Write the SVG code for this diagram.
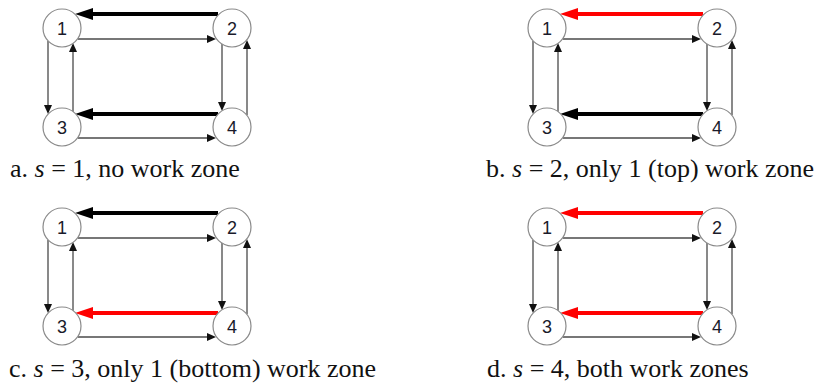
<svg xmlns="http://www.w3.org/2000/svg" width="820" height="388" viewBox="0 0 820 388">
<defs>
<style>
.node circle{fill:#fff;stroke:#8a8a8a;stroke-width:1.2}
.node text{font-family:"Liberation Sans",Arial,sans-serif;font-size:18px;fill:#1a1a2a;text-anchor:middle}
.thin{fill:none;stroke:#4a4a4a;stroke-width:1.3;marker-end:url(#ah)}
.thick{fill:none;stroke:#000;stroke-width:4;marker-end:url(#ahb)}
.red{fill:none;stroke:#ff0000;stroke-width:4;marker-end:url(#ahr)}
.cap{font-family:"Liberation Serif","Times New Roman",serif;font-size:26px;fill:#111}
.cap tspan.i{font-style:italic}
</style>
<marker id="ah" markerUnits="userSpaceOnUse" markerWidth="10" markerHeight="8" refX="0" refY="4" orient="auto" overflow="visible"><path d="M0,0 L9,4 L0,8 z" fill="#111"/></marker>
<marker id="ahb" markerUnits="userSpaceOnUse" markerWidth="18" markerHeight="12" refX="0" refY="6" orient="auto" overflow="visible"><path d="M0,0 L18,6 L0,12 z" fill="#000"/></marker>
<marker id="ahr" markerUnits="userSpaceOnUse" markerWidth="18" markerHeight="12" refX="0" refY="6" orient="auto" overflow="visible"><path d="M0,0 L18,6 L0,12 z" fill="#ff0000"/></marker>
</defs>
<rect width="820" height="388" fill="#fff"/>

<g id="panel-a">
<g id="a-connectors">
<path class="thick" d="M218,14 H93"/>
<path class="thin" d="M78,39 H207"/>
<path class="thin" d="M48,41 V105"/>
<path class="thin" d="M73,112 V52"/>
<path class="thin" d="M222,44 V102"/>
<path class="thin" d="M247,115 V49"/>
<path class="thick" d="M218,114 H93"/>
<path class="thin" d="M78,138 H207"/>
</g>
<g id="a-n1" class="node"><circle cx="62" cy="28" r="19"/><text x="62" y="34.5">1</text></g>
<g id="a-n2" class="node"><circle cx="232" cy="28" r="19"/><text x="232" y="34.5">2</text></g>
<g id="a-n3" class="node"><circle cx="62" cy="127" r="19"/><text x="62" y="133.5">3</text></g>
<g id="a-n4" class="node"><circle cx="232" cy="127" r="19"/><text x="232" y="133.5">4</text></g>
<text class="cap" x="10" y="177">a. <tspan class="i">s</tspan> = 1, no work zone</text>
</g>

<g id="panel-b" transform="translate(485,0)">
<g id="b-connectors">
<path class="red" d="M218,14 H93"/>
<path class="thin" d="M78,39 H207"/>
<path class="thin" d="M48,41 V105"/>
<path class="thin" d="M73,112 V52"/>
<path class="thin" d="M222,44 V102"/>
<path class="thin" d="M247,115 V49"/>
<path class="thick" d="M218,114 H93"/>
<path class="thin" d="M78,138 H207"/>
</g>
<g id="b-n1" class="node"><circle cx="62" cy="28" r="19"/><text x="62" y="34.5">1</text></g>
<g id="b-n2" class="node"><circle cx="232" cy="28" r="19"/><text x="232" y="34.5">2</text></g>
<g id="b-n3" class="node"><circle cx="62" cy="127" r="19"/><text x="62" y="133.5">3</text></g>
<g id="b-n4" class="node"><circle cx="232" cy="127" r="19"/><text x="232" y="133.5">4</text></g>
<text class="cap" x="1" y="177">b. <tspan class="i">s</tspan> = 2, only 1 (top) work zone</text>
</g>

<g id="panel-c" transform="translate(0,199)">
<g id="c-connectors">
<path class="thick" d="M218,14 H93"/>
<path class="thin" d="M78,39 H207"/>
<path class="thin" d="M48,41 V105"/>
<path class="thin" d="M73,112 V52"/>
<path class="thin" d="M222,44 V102"/>
<path class="thin" d="M247,115 V49"/>
<path class="red" d="M218,114 H93"/>
<path class="thin" d="M78,138 H207"/>
</g>
<g id="c-n1" class="node"><circle cx="62" cy="28" r="19"/><text x="62" y="34.5">1</text></g>
<g id="c-n2" class="node"><circle cx="232" cy="28" r="19"/><text x="232" y="34.5">2</text></g>
<g id="c-n3" class="node"><circle cx="62" cy="127" r="19"/><text x="62" y="133.5">3</text></g>
<g id="c-n4" class="node"><circle cx="232" cy="127" r="19"/><text x="232" y="133.5">4</text></g>
<text class="cap" x="9" y="178">c. <tspan class="i">s</tspan> = 3, only 1 (bottom) work zone</text>
</g>

<g id="panel-d" transform="translate(485,199)">
<g id="d-connectors">
<path class="red" d="M218,14 H93"/>
<path class="thin" d="M78,39 H207"/>
<path class="thin" d="M48,41 V105"/>
<path class="thin" d="M73,112 V52"/>
<path class="thin" d="M222,44 V102"/>
<path class="thin" d="M247,115 V49"/>
<path class="red" d="M218,114 H93"/>
<path class="thin" d="M78,138 H207"/>
</g>
<g id="d-n1" class="node"><circle cx="62" cy="28" r="19"/><text x="62" y="34.5">1</text></g>
<g id="d-n2" class="node"><circle cx="232" cy="28" r="19"/><text x="232" y="34.5">2</text></g>
<g id="d-n3" class="node"><circle cx="62" cy="127" r="19"/><text x="62" y="133.5">3</text></g>
<g id="d-n4" class="node"><circle cx="232" cy="127" r="19"/><text x="232" y="133.5">4</text></g>
<text class="cap" x="2" y="178">d. <tspan class="i">s</tspan> = 4, both work zones</text>
</g>
</svg>
